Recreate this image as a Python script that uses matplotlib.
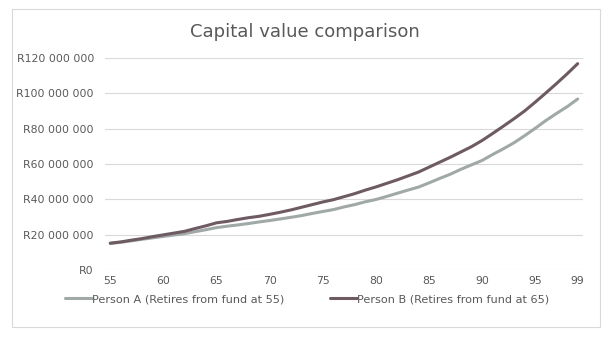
import matplotlib
matplotlib.use("Agg")
import matplotlib.pyplot as plt
from matplotlib.patches import Rectangle
from matplotlib.ticker import FuncFormatter

# ages 55..99
ages = list(range(55, 100))

# capital value in R millions
person_a = [15.0, 15.7, 16.5, 17.4, 18.2, 19.0, 19.8, 20.6, 21.7, 22.8,
            24.0, 24.8, 25.5, 26.3, 27.2, 28.0, 28.9, 29.8, 30.8, 32.0,
            33.1, 34.2, 35.7, 37.0, 38.6, 39.9, 41.6, 43.4, 45.2, 46.9,
            49.3, 51.8, 54.2, 57.0, 59.5, 62.0, 65.4, 68.6, 72.0, 76.0,
            80.2, 84.6, 88.6, 92.4, 96.8]
person_b = [15.2, 15.9, 16.9, 17.8, 18.9, 19.9, 20.9, 21.9, 23.5, 25.0,
            26.7, 27.5, 28.6, 29.6, 30.4, 31.5, 32.7, 34.0, 35.5, 37.0,
            38.5, 39.8, 41.5, 43.2, 45.2, 47.0, 49.0, 51.0, 53.2, 55.4,
            58.2, 61.0, 63.8, 66.8, 69.8, 73.3, 77.3, 81.4, 85.6, 90.0,
            95.0, 100.2, 105.5, 111.0, 116.8]

series_names = ["Person A (Retires from fund at 55)",
                "Person B (Retires from fund at 65)"]
x_ticks = [55, 60, 65, 70, 75, 80, 85, 90, 95, 99]
y_ticks = [0, 20, 40, 60, 80, 100, 120]

col_a = "#A0A9A7"
col_b = "#6E5A62"
txt = "#595959"
grid = "#D9D9D9"

plt.rcParams["font.family"] = ["DejaVu Sans"]

fig = plt.figure(figsize=(6.15, 3.4), dpi=100)
W, H = 615, 340
fig.patches.append(Rectangle((12 / W, 1 - 327 / H), 588 / W, 318 / H,
                             transform=fig.transFigure, fill=False,
                             edgecolor=grid, linewidth=0.8))

ax = fig.add_axes([105 / W, 1 - 270 / H, 478 / W, 212 / H])

la, = ax.plot(ages, [v * 1e6 for v in person_a], color=col_a, lw=2.2,
              solid_capstyle="round")
lb, = ax.plot(ages, [v * 1e6 for v in person_b], color=col_b, lw=2.2,
              solid_capstyle="round")

ax.set_xlim(54.5, 99.5)
ax.set_ylim(0, 120e6)
ax.set_xticks(x_ticks)
ax.set_yticks([v * 1e6 for v in y_ticks])
ax.yaxis.set_major_formatter(FuncFormatter(
    lambda v, p: "R" + f"{int(round(v)):,}".replace(",", " ")))
ax.grid(axis="y", color=grid, lw=0.8)
ax.set_axisbelow(True)
for s in ax.spines.values():
    s.set_visible(False)
ax.tick_params(length=0, labelsize=7.8, labelcolor=txt)
ax.tick_params(axis="y", pad=8)
ax.tick_params(axis="x", pad=4)

fig.text(305 / W, 1 - 32 / H, "Capital value comparison", ha="center",
         va="center", fontsize=13, color=txt)

fig.legend([la, lb], series_names, loc="center", ncol=2,
           bbox_to_anchor=(307 / W, 1 - 299 / H), frameon=False,
           fontsize=8.1, labelcolor=txt, handlelength=2.4,
           handletextpad=0.0, columnspacing=4.0, borderpad=0.2)

fig.savefig("out.png", dpi=100)
